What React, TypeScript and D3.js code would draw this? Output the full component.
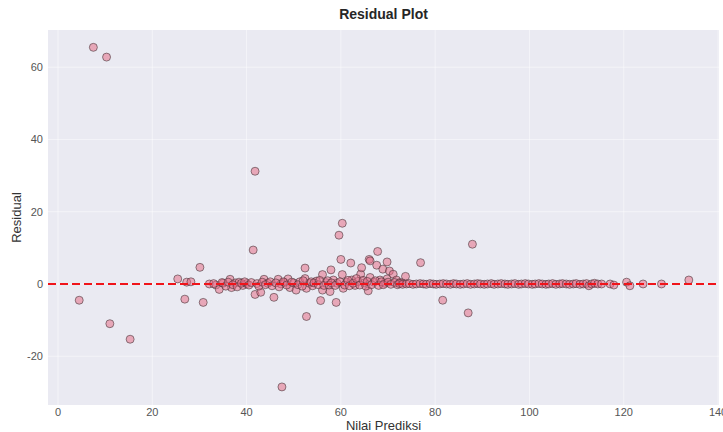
import React from "react";
import * as d3 from "d3";

// Predicted values (x) and residuals (y)
const predicted: number[] = [
  7.5, 10.3, 4.5, 11.0, 15.3,
  25.4, 26.9, 27.3, 28.2, 30.1, 30.8,
  32.1, 33.5, 34.2, 35.0, 36.5, 36.8, 37.6, 38.4, 39.2, 40.0,
  41.4, 41.8, 41.8, 43.0, 43.7, 44.5, 45.8, 46.7, 47.5, 47.3, 48.0, 48.8, 49.2, 50.0, 50.5, 51.3,
  52.4, 52.4, 52.7, 52.7, 53.3, 54.0, 54.8, 55.7, 56.1, 56.1, 56.8, 57.7, 57.9, 58.4, 59.0, 59.2,
  59.6, 60.0, 60.3, 60.3, 60.5, 61.2, 62.1, 62.3, 63.0, 63.6, 64.2, 64.4, 65.0, 65.8, 66.0, 66.2,
  66.2, 67.0, 67.6, 67.8, 68.3, 68.9, 69.3, 69.8, 69.8, 70.3, 71.1, 71.8, 72.5, 73.7, 76.9, 81.6,
  87.0, 87.9,
  33.0, 34.8, 35.6, 36.1, 37.1, 38.0, 38.9, 39.6, 40.5, 41.0, 42.2, 42.6, 43.3, 44.0, 45.0, 45.4,
  46.2, 46.9, 47.8, 48.5, 49.6, 50.9, 51.8, 52.0, 53.7, 54.3, 55.2, 55.5, 56.4, 57.2, 57.5, 58.0,
  58.8, 59.8, 60.8, 61.5, 61.8, 62.6, 63.3, 64.0, 64.7, 65.3, 65.6, 66.5, 67.3, 68.0, 68.6, 69.0,
  70.0, 70.6, 71.4, 72.0, 73.0,
  72.4, 73.1, 73.9, 74.5, 75.3, 76.0, 76.8, 77.5, 78.1, 78.9, 79.6, 80.2, 81.0, 81.7, 82.4, 83.2,
  83.9, 84.5, 85.3, 86.0, 86.8, 87.5, 88.3, 89.0, 89.6, 90.4, 91.1, 91.9, 92.5, 93.3, 94.0, 94.8,
  95.4, 96.2, 96.9, 97.7, 98.3, 99.1, 99.8, 100.6, 101.2, 102.0, 102.7, 103.5, 104.1, 104.9, 105.6,
  106.4, 107.0, 107.8, 108.5, 109.3, 109.9, 110.7, 111.4, 112.1, 112.6, 113.2, 113.8, 114.5, 115.3,
  117.1, 117.9, 120.6, 121.3, 124.1, 128.0, 133.8,
];

const residual: number[] = [
  65.5, 62.8, -4.5, -11.0, -15.3,
  1.4, -4.2, 0.5, 0.6, 4.6, -5.1,
  0.0, -0.3, -1.5, 0.2, 1.3, -1.0, 0.3, 0.5, -0.4, 0.1,
  9.4, 31.2, -2.9, -2.3, 1.3, 0.2, -3.7, 1.3, -28.5, 0.0, 0.4, 1.4, -1.0, 0.3, -1.7, 0.6,
  4.4, 1.5, -1.2, -9.0, 0.2, -0.5, 0.8, -4.6, 2.6, -1.7, 0.4, -2.1, 3.9, 1.1, -5.1, 0.2,
  13.5, 6.8, 16.8, 2.6, -1.2, 0.5, 5.8, 1.1, -0.4, 0.7, 2.7, 4.5, 0.3, -1.9, 6.8, 6.4,
  1.8, 0.5, 5.2, 9.0, 1.1, 4.1, 0.2, 6.1, 1.4, 3.6, 2.7, 1.1, 0.4, 2.1, 5.9, -4.5,
  -8.0, 11.0,
  0.1, 0.4, -0.6, 0.5, -0.2, -0.8, 0.2, 0.6, -0.3, 0.4, 0.1, -0.6, 0.5, -0.2, 0.6, -0.5,
  0.3, -0.8, 0.6, -0.3, 0.5, -0.2, -0.6, 0.9, 0.6, 0.3, -0.2, 1.0, -0.4, 0.9, -0.3, 0.3,
  -0.4, 0.6, -0.3, 1.0, -0.5, 0.2, 1.5, -0.3, 1.0, -0.6, 0.7, -0.2, 0.9, -0.4, 0.6, -0.2,
  0.5, -0.1, 0.4, -0.2, 0.3,
  0.1, -0.1, 0.0, 0.1, -0.1, 0.0, 0.1, 0.0, -0.1, 0.1, 0.0, -0.1, 0.0, 0.1, 0.0, -0.1,
  0.1, 0.0, -0.1, 0.0, 0.1, -0.1, 0.0, 0.1, 0.0, -0.1, 0.0, 0.1, -0.1, 0.0, 0.1, 0.0,
  -0.1, 0.0, 0.1, -0.1, 0.0, 0.1, 0.0, -0.1, 0.0, 0.1, 0.0, -0.1, 0.0, 0.1, -0.1,
  0.0, 0.1, 0.0, -0.1, 0.0, 0.1, -0.1, 0.0, 0.1, -0.5, 0.0, 0.2, 0.0, 0.0,
  0.0, -0.3, 0.5, -0.5, 0.0, 0.0, 1.1,
];

const xTicks: number[] = [0, 20, 40, 60, 80, 100, 120, 140];
const yTicks: number[] = [-20, 0, 20, 40, 60];

const W = 723;
const H = 432;
const plot = { left: 48, right: 719, top: 30, bottom: 405 };

export default function App() {
  const x = d3.scaleLinear().domain([-2.12, 140.2]).range([plot.left, plot.right]);
  const y = d3.scaleLinear().domain([-33.5, 70.3]).range([plot.bottom, plot.top]);
  const font = "'Liberation Sans', Arial, sans-serif";
  const points = predicted.map((p, i) => ({ p, r: residual[i] }));

  return (
    <svg
      width={W}
      height={H}
      style={{ position: "absolute", left: 0, top: 0, background: "#fff" }}
      fontFamily={font}
    >
      <rect
        x={plot.left}
        y={plot.top}
        width={plot.right - plot.left}
        height={plot.bottom - plot.top}
        fill="#EAEAF2"
      />
      <g>
        {xTicks.map((t) => (
          <line key={"gx" + t} x1={x(t)} x2={x(t)} y1={plot.top} y2={plot.bottom} stroke="#fff" strokeOpacity={0.6} strokeWidth={0.8} />
        ))}
        {yTicks.map((t) => (
          <line key={"gy" + t} x1={plot.left} x2={plot.right} y1={y(t)} y2={y(t)} stroke="#fff" strokeOpacity={0.6} strokeWidth={0.8} />
        ))}
      </g>
      <g>
        {points.map((d, i) => (
          <circle
            key={i}
            cx={x(d.p)}
            cy={y(d.r)}
            r={4}
            fill="#e47088"
            fillOpacity={0.55}
            stroke="#3a2a2e"
            strokeOpacity={0.55}
            strokeWidth={1}
          />
        ))}
      </g>
      <line
        x1={plot.left}
        x2={plot.right}
        y1={y(0)}
        y2={y(0)}
        stroke="#f0141a"
        strokeWidth={2}
        strokeDasharray="8,4"
      />
      <g fontSize={11} fill="#555">
        {xTicks.map((t) => (
          <text key={"tx" + t} x={x(t)} y={plot.bottom + 11} textAnchor="middle">
            {t}
          </text>
        ))}
        {yTicks.map((t) => (
          <text key={"ty" + t} x={plot.left - 5} y={y(t) + 4} textAnchor="end">
            {t}
          </text>
        ))}
      </g>
      <text x={(plot.left + plot.right) / 2} y={19} textAnchor="middle" fontSize={14} fontWeight="bold" fill="#262626">
        Residual Plot
      </text>
      <text x={(plot.left + plot.right) / 2} y={430} textAnchor="middle" fontSize={13} fill="#333">
        Nilai Prediksi
      </text>
      <text
        transform={`translate(21, ${(plot.top + plot.bottom) / 2}) rotate(-90)`}
        textAnchor="middle"
        fontSize={13}
        fill="#333"
      >
        Residual
      </text>
    </svg>
  );
}
